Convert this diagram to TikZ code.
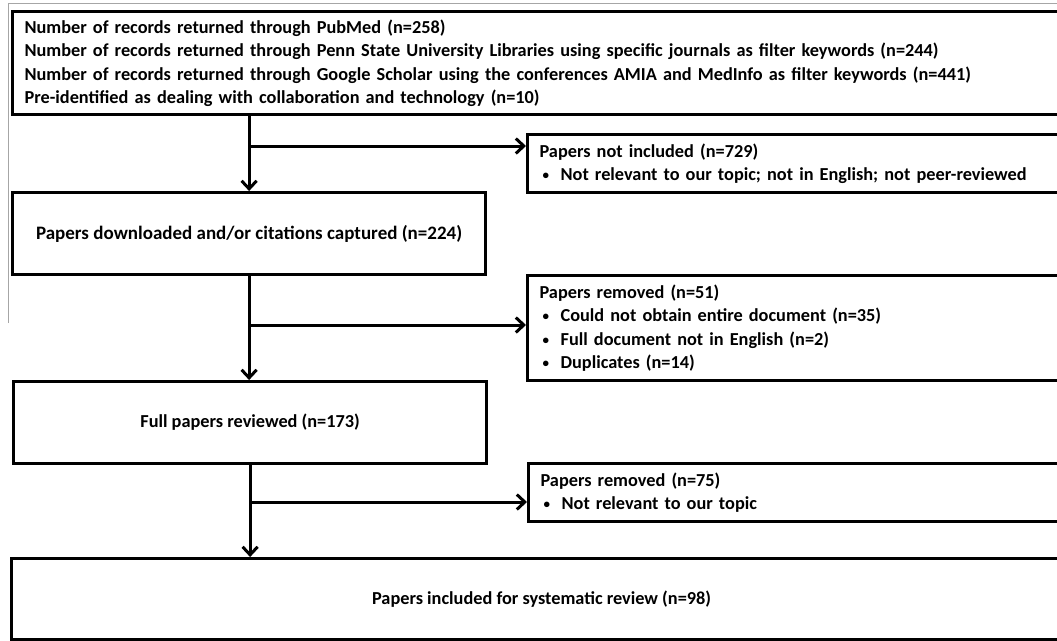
\documentclass[tikz,border=0pt]{standalone}
\usepackage{fontspec}
\setmainfont{Carlito}
\usetikzlibrary{arrows.meta,calc}
\begin{document}
\begin{tikzpicture}[x=1pt,y=-1pt,
  every node/.style={font=\bfseries\fontsize{18.3}{23.5}\selectfont},
  box/.style={draw, line width=3.2pt, rectangle, inner sep=0pt},
  leftbox/.style={box, anchor=north west, align=left, inner xsep=12pt},
  midbox/.style={box, anchor=north west, align=center},
  arr/.style={line width=3pt, -{Straight Barb[length=8pt,width=15pt]}},
  frame/.style={draw=gray!70, line width=0.8pt}
]
\useasboundingbox (0,0) rectangle (1057,640);
\clip (0,0) rectangle (1057,640);
\newcommand{\bitem}[1]{\hspace*{3pt}\makebox[18pt][l]{\raisebox{1pt}{\fontsize{13}{13}\selectfont\textbullet}}#1}

\coordinate (fa) at (8,3);
\coordinate (fb) at (1057,3);
\coordinate (fc) at (8,323);
\draw[frame] (fc) -- (fa) -- (fb);

\node[leftbox, minimum width=1070, minimum height=103, text width=1046] (top) at (11,10)
 {Number of records returned through PubMed (n=258)\\
  Number of records returned through Penn State University Libraries using specific journals as filter keywords (n=244)\\
  Number of records returned through Google Scholar using the conferences AMIA and MedInfo as filter keywords (n=441)\\
  Pre-identified as dealing with collaboration and technology (n=10)};

\node[midbox, minimum width=473, minimum height=82, font=\bfseries\fontsize{19}{24}\selectfont] (b2) at (11,191)
 {Papers downloaded and/or citations captured (n=224)};

\node[midbox, minimum width=473, minimum height=82] (b3) at (12,380)
 {Full papers reviewed (n=173)};

\node[midbox, minimum width=1060, minimum height=81] (b4) at (10,557)
 {Papers included for systematic review (n=98)};

\node[leftbox, minimum width=540, minimum height=58, text width=516] (r1) at (526,133)
 {Papers not included (n=729)\\
  \bitem{Not relevant to our topic; not in English; not peer-reviewed}};

\node[leftbox, minimum width=540, minimum height=105, text width=516] (r2) at (526,274)
 {Papers removed (n=51)\\
  \bitem{Could not obtain entire document (n=35)}\\
  \bitem{Full document not in English (n=2)}\\
  \bitem{Duplicates (n=14)}};

\node[leftbox, minimum width=540, minimum height=58, text width=516] (r3) at (527,462)
 {Papers removed (n=75)\\
  \bitem{Not relevant to our topic}};

\coordinate (t1) at ($(r1.north west)+(0,13)$);
\coordinate (t2) at ($(r2.north west)+(0,51)$);
\coordinate (t3) at ($(r3.north west)+(0,40)$);

\draw[arr] (top.south -| b2.north) -- (b2.north);
\draw[arr] (b2.north |- t1) -- (t1);
\draw[arr] (b2.south) -- (b3.north -| b2.south);
\draw[arr] (b2.south |- t2) -- (t2);
\draw[arr] (b3.south) -- (b4.north -| b3.south);
\draw[arr] (b3.south |- t3) -- (t3);
\end{tikzpicture}
\end{document}
